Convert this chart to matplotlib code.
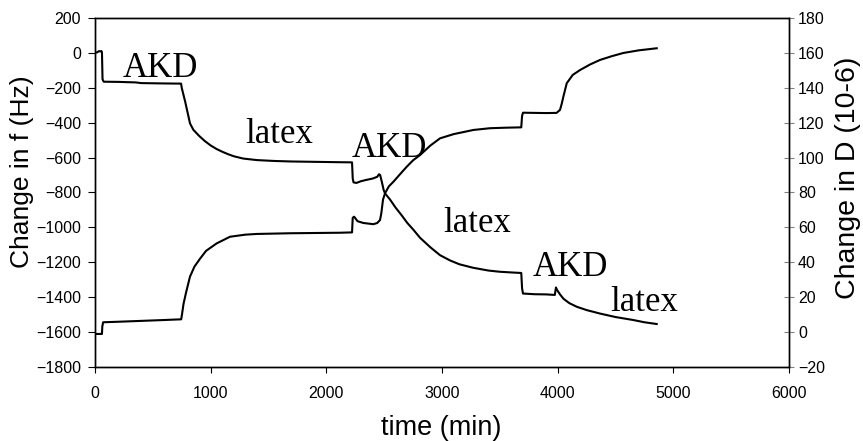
import matplotlib
matplotlib.use("Agg")
import matplotlib.pyplot as plt

# QCM-D trace: frequency shift (left axis) and dissipation shift (right axis)
time_f = [0, 20, 35, 45, 55, 60, 65, 75, 200, 350, 400, 600, 744, 750, 765, 780, 800,
          821, 850, 900, 950, 1000, 1050, 1100, 1150, 1200, 1280, 1400, 1550, 1700, 1900,
          2100, 2222, 2228, 2235, 2260, 2300, 2350, 2400, 2440, 2455, 2465, 2480, 2495,
          2507, 2550, 2600, 2650, 2700, 2750, 2810, 2900, 2983, 3069, 3150, 3268, 3400,
          3500, 3600, 3685, 3692, 3700, 3800, 3900, 3975, 3985, 3995, 4020, 4050, 4100,
          4165, 4250, 4366, 4500, 4653, 4750, 4856]
delta_f = [2, 5, 12, 10, 12, 5, -150, -164, -165, -168, -172, -174, -175, -200, -240,
           -280, -340, -403, -440, -475, -505, -530, -550, -566, -580, -592, -605, -614,
           -619, -622, -624, -626, -627, -720, -742, -745, -735, -727, -720, -710, -695,
           -700, -740, -785, -805, -840, -888, -930, -975, -1012, -1060, -1115, -1160,
           -1190, -1212, -1232, -1248, -1255, -1259, -1262, -1350, -1380, -1384, -1385,
           -1388, -1345, -1360, -1385, -1410, -1435, -1456, -1475, -1495, -1515, -1532,
           -1545, -1555]

time_d = [0, 60, 63, 70, 200, 400, 600, 745, 752, 765, 785, 821, 860, 908, 960, 1052,
          1167, 1300, 1398, 1686, 2118, 2222, 2228, 2240, 2270, 2320, 2406, 2440, 2464,
          2475, 2490, 2507, 2540, 2580, 2637, 2695, 2750, 2810, 2900, 2983, 3100, 3271,
          3415, 3550, 3685, 3692, 3700, 3800, 3900, 3990, 4020, 4035, 4049, 4078, 4130,
          4193, 4280, 4366, 4470, 4568, 4700, 4856]
delta_d = [-1.2, -1.2, 3, 5.5, 5.8, 6.3, 6.8, 7.2, 10, 16, 22, 31.7, 37.5, 42, 46.5,
           50.8, 54.6, 55.8, 56.2, 56.6, 56.9, 57.1, 65.5, 66.1, 63.5, 62.5, 61.8, 62.5,
           64.2, 68, 76, 79.5, 83.5, 86.2, 90.5, 94.8, 98.5, 101.5, 107, 111.1, 113.5,
           115.9, 116.9, 117.2, 117.4, 124, 125.8, 125.7, 125.6, 125.7, 127.4, 131, 135,
           142.7, 147.5, 150.3, 153.5, 156.1, 158.3, 160.1, 161.6, 162.8]

# step labels: text, time, frequency (baseline of the text)
step_labels = ["AKD", "latex", "AKD", "latex", "AKD", "latex"]
label_time = [242, 1297, 2222, 3009, 3787, 4453]
label_f = [-137, -516, -596, -1027, -1279, -1480]

sans = "Liberation Sans"
serif = "Liberation Serif"

fig = plt.figure(figsize=(8.63, 4.41), dpi=100)
ax = fig.add_axes([0.1101, 0.1685, 0.8042, 0.790])
ax2 = ax.twinx()

ax.plot(time_f, delta_f, color="black", lw=1.5)
ax2.plot(time_d, delta_d, color="black", lw=1.5)

for txt, t, f in zip(step_labels, label_time, label_f):
    ax.text(t, f, txt, fontsize=25, family=serif, ha="left", va="baseline")

ax.set_xlim(0, 6000)
ax.set_ylim(-1800, 200)
ax2.set_ylim(-20, 180)
ax.set_xticks(range(0, 6001, 1000))
ax.set_yticks(range(-1800, 201, 200))
ax2.set_yticks(range(-20, 181, 20))

# axis titles placed in figure coordinates
fig.text(441 / 863, 1 - 428 / 441, "time (min)", fontsize=19.5, family=sans,
         ha="center", va="center")
fig.text(22 / 863, 1 - 172 / 441, "Change in f (Hz)", fontsize=19, family=sans,
         rotation=90, ha="center", va="center")
fig.text(848 / 863, 1 - 178 / 441, "Change in D (10-6)", fontsize=20.5, family=sans,
         rotation=90, ha="center", va="center")

ax.tick_params(axis="y", direction="out", length=5, width=0.8, labelsize=11.5, pad=5)
ax.tick_params(axis="x", direction="out", length=4, width=0.8, labelsize=11.5, pad=10)
ax2.tick_params(axis="y", direction="inout", length=7, width=0.8, labelsize=11.5,
                color="0.5", pad=3)
for lab in ax.get_xticklabels() + ax.get_yticklabels() + ax2.get_yticklabels():
    lab.set_family(sans)

for a in (ax, ax2):
    for sp in a.spines.values():
        sp.set_linewidth(1.0)

fig.savefig("out.png", dpi=100)
